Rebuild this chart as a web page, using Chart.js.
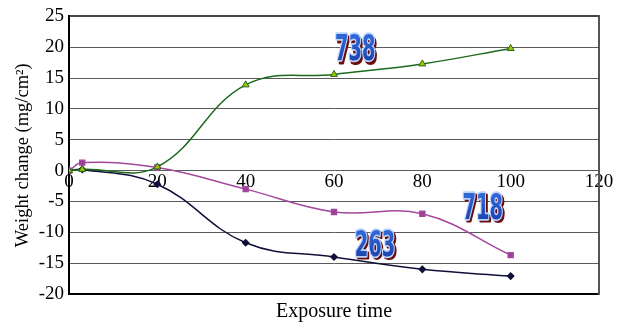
<!DOCTYPE html>
<html><head><meta charset="utf-8">
<script src="https://cdn.jsdelivr.net/npm/chart.js@4/dist/chart.umd.min.js"></script>
<style>html,body{margin:0;padding:0;background:#fff}#wrap{width:626px;height:324px}</style>
</head><body><div id="wrap"><canvas id="c" width="626" height="324"></canvas></div>
<script>
const exposure = [0, 3, 20, 40, 60, 80, 100];
const alloy263 = [0, 0.2, -2.2, -11.7, -14.0, -16.0, -17.1];
const alloy718 = [0, 1.3, 0.5, -3.0, -6.7, -7.0, -13.7];
const alloy738 = [0, 0.2, 0.6, 13.9, 15.6, 17.3, 19.8];
const seriesNames = ['263', '718', '738'];
const nameAnchors = [[69.3, -12.3], [93.7, -6.3], [64.8, 19.4]];
const yTicks = [-20, -15, -10, -5, 0, 5, 10, 15, 20, 25];
const xTicks = [0, 20, 40, 60, 80, 100, 120];

const pts = arr => arr.map((v, i) => ({x: exposure[i], y: v}));
const serif = 'Liberation Serif, "Times New Roman", serif';

const namePlugin = {
  id: 'names',
  afterDatasetsDraw(chart) {
    const ctx = chart.ctx, xs = chart.scales.x, ys = chart.scales.y;
    ctx.save();
    seriesNames.forEach((n, i) => {
      const px = xs.getPixelForValue(nameAnchors[i][0]);
      const py = ys.getPixelForValue(nameAnchors[i][1]);
      ctx.save();
      ctx.translate(px, py);
      ctx.scale(0.6, 1);
      ctx.font = 'bold 36px "Liberation Sans Narrow", "DejaVu Sans Condensed", sans-serif';
      ctx.textAlign = 'center';
      ctx.textBaseline = 'middle';
      ctx.lineJoin = 'round';
      ctx.fillStyle = '#6b0d0d';
      ctx.strokeStyle = '#6b0d0d';
      ctx.lineWidth = 3;
      ctx.strokeText(n, 3, 2.5);
      ctx.fillText(n, 3, 2.5);
      ctx.strokeStyle = '#bcd3fb';
      ctx.lineWidth = 3.5;
      ctx.strokeText(n, 0, 0);
      const g = ctx.createLinearGradient(0, -14, 0, 14);
      g.addColorStop(0, '#2f66d6');
      g.addColorStop(1, '#1a3fa8');
      ctx.fillStyle = g;
      ctx.fillText(n, 0, 0);
      ctx.restore();
    });
    ctx.restore();
  }
};

new Chart(document.getElementById('c'), {
  type: 'line',
  data: {
    datasets: [
      {label: seriesNames[0], data: pts(alloy263), borderColor: '#10103a', backgroundColor: '#10103a', order: 2,
       pointStyle: 'rectRot', pointRadius: 3, borderWidth: 1.5, tension: 0.4},
      {label: seriesNames[1], data: pts(alloy718), borderColor: '#a4479e', backgroundColor: '#a03f98', order: 1,
       pointStyle: 'rect', pointRadius: 3.5, borderWidth: 1.5, tension: 0.4},
      {label: seriesNames[2], data: pts(alloy738), borderColor: '#1d6a1d', backgroundColor: '#a8c200', order: 0,
       pointStyle: 'triangle', pointRadius: 4, pointBorderColor: '#1d6a1d', pointBorderWidth: 1, borderWidth: 1.5, tension: 0.4}
    ]
  },
  options: {
    responsive: false,
    animation: false,
    layout: {padding: {top: 14, right: 0, bottom: 0, left: 0}},
    plugins: {legend: {display: false}, tooltip: {enabled: false}},
    scales: {
      x: {
        type: 'linear', min: 0, max: 120, position: 'bottom',
        grid: {display: false},
        border: {display: true, color: '#000', width: 2},
        ticks: {display: false},
        title: {display: true, text: 'Exposure time', color: '#000', font: {family: serif, size: 20}, padding: {top: 0, bottom: 0}},
        afterFit: s => { s.height = 30; }
      },
      x2: {
        type: 'linear', min: 0, max: 120, position: {y: 0},
        grid: {display: false, drawTicks: false},
        border: {display: false},
        afterBuildTicks: s => { s.ticks = xTicks.map(v => ({value: v})); },
        ticks: {color: '#000', font: {family: serif, size: 19}, padding: 0, maxRotation: 0, autoSkip: false}
      },
      y: {
        type: 'linear', min: -20, max: 25,
        afterBuildTicks: s => { s.ticks = yTicks.map(v => ({value: v})); },
        grid: {color: c => c.tick && c.tick.value === 25 ? '#444' : '#5a5a5a',
               lineWidth: c => c.tick && c.tick.value === 25 ? 2 : 1, drawTicks: false},
        border: {display: true, color: '#000', width: 2},
        ticks: {color: '#000', font: {family: serif, size: 19}, padding: 5},
        title: {display: true, text: 'Weight change (mg/cm²)', color: '#000', font: {family: serif, size: 18.5}, padding: {top: 12, bottom: 0}},
        afterFit: s => { s.width = 69; }
      },
      y2: {
        type: 'linear', min: -20, max: 25, position: 'right',
        grid: {display: false, drawTicks: false},
        border: {display: true, color: '#555', width: 2},
        ticks: {display: false},
        afterFit: s => { s.width = 27; }
      }
    }
  },
  plugins: [namePlugin]
});
</script></body></html>
